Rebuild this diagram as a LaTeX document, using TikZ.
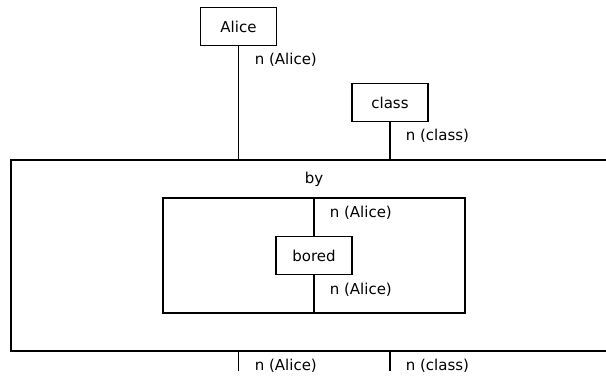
\documentclass[tikz,border=0pt]{standalone}
\usepackage{fontspec}
\setmainfont{DejaVu Sans}
\usetikzlibrary{positioning}

\begin{document}
\begin{tikzpicture}[x=1pt, y=-1pt, line width=1.6pt, every node/.style={font=\fontsize{15}{17}\selectfont}]
    \tikzstyle{box}=[draw, minimum width=76pt, minimum height=38pt, inner sep=0pt]
    \tikzstyle{wirelabel}=[anchor=west, inner sep=0pt]
    \clip (0,0) rectangle (606,377);

    % Boxes
    \node[box] (alice) at (238.5,26.5) {Alice};
    \node[box] (class) at (390,102.5) {class};
    \node[box] (bored) at (314,255.5) {bored};

    % Outer and inner frames
    \draw (11,160) rectangle (640,351);
    \draw (163,198) rectangle (465,313);
    \node (by) at (314,179) {by};

    % Wire end points
    \coordinate (aliceTop) at (238.5,160);
    \coordinate (classTop) at (390,160);
    \coordinate (innerTop) at (314,198);
    \coordinate (innerBot) at (314,313);
    \coordinate (aliceBot) at (238.5,351);
    \coordinate (aliceOut) at (238.5,371);
    \coordinate (classBot) at (390,351);
    \coordinate (classOut) at (390,371);

    % Wires
    \draw (alice) -- (aliceTop);
    \draw (class) -- (classTop);
    \draw (innerTop) -- (bored);
    \draw (bored) -- (innerBot);
    \draw (aliceBot) -- (aliceOut);
    \draw (classBot) -- (classOut);

    % Labels
    \node[wirelabel] at (254,60) {n (Alice)};
    \node[wirelabel] at (405,136) {n (class)};
    \node[wirelabel] at (329,213) {n (Alice)};
    \node[wirelabel] at (329,290) {n (Alice)};
    \node[wirelabel] at (254,366) {n (Alice)};
    \node[wirelabel] at (405,366) {n (class)};
\end{tikzpicture}
\end{document}
